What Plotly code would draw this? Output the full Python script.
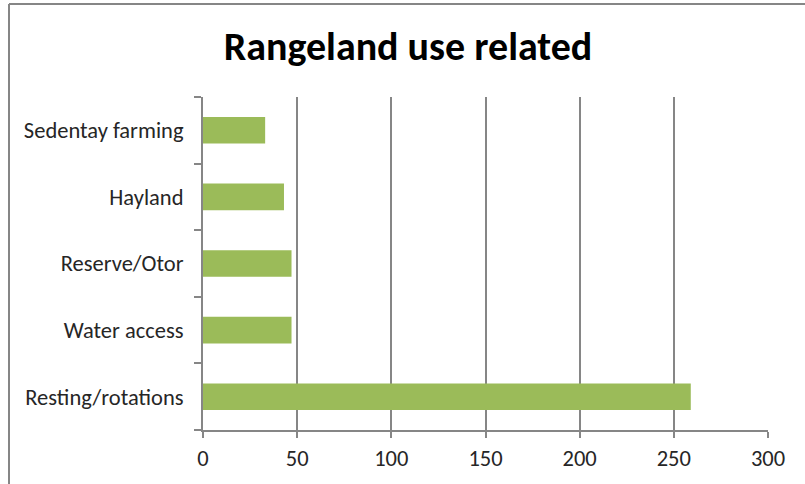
import plotly.graph_objects as go

# Rangeland use related responses (counts)
categories = ["Resting/rotations", "Water access", "Reserve/Otor", "Hayland", "Sedentay farming"]
counts = [259, 47, 47, 43, 33]
x_ticks = [0, 50, 100, 150, 200, 250, 300]

W, H = 805, 484
L, R, T, B = 203, 37, 97, 54
pw, ph = W - L - R, H - T - B

grey = "#868686"
text_color = "#262626"
font_family = "Carlito, 'Open Sans', sans-serif"

fig = go.Figure(
    go.Bar(
        y=categories,
        x=counts,
        orientation="h",
        marker=dict(color="#9BBB59", line=dict(width=0)),
        width=0.4,
        hoverinfo="x+y",
    )
)

# chart frame: left and top border of the outer chart box
def px_to_paper_x(px):
    return (px - L) / pw

def px_to_paper_y(py):
    return 1 - (py - T) / ph

fig.add_shape(type="line", xref="paper", yref="paper",
              x0=px_to_paper_x(9), x1=px_to_paper_x(806),
              y0=px_to_paper_y(4), y1=px_to_paper_y(4),
              line=dict(color=grey, width=2))
fig.add_shape(type="line", xref="paper", yref="paper",
              x0=px_to_paper_x(9), x1=px_to_paper_x(9),
              y0=px_to_paper_y(4), y1=px_to_paper_y(486),
              line=dict(color=grey, width=2))

fig.update_layout(
    width=W, height=H,
    margin=dict(l=L, r=R, t=T, b=B, autoexpand=False),
    paper_bgcolor="white",
    plot_bgcolor="white",
    showlegend=False,
    bargap=0.6,
    title=dict(
        text="<b>Rangeland use related</b>",
        x=(408 / W), xanchor="center", xref="container",
        y=1 - 46 / H, yanchor="middle",
        font=dict(family=font_family, size=40, color="#000000"),
    ),
    xaxis=dict(
        range=[0, 300],
        tickvals=x_ticks,
        ticktext=[str(v) for v in x_ticks],
        showgrid=True, gridcolor=grey, gridwidth=2,
        showline=True, linecolor=grey, linewidth=2,
        ticks="outside", ticklen=6, tickcolor=grey, tickwidth=2,
        zeroline=False,
        tickfont=dict(family=font_family, size=22.5, color=text_color),
        ticklabelstandoff=1,
        automargin=False,
        fixedrange=True,
    ),
    yaxis=dict(
        showgrid=False,
        showline=True, linecolor=grey, linewidth=2,
        ticks="outside", ticklen=7, tickcolor=grey, tickwidth=2,
        tickson="boundaries",
        tickfont=dict(family=font_family, size=22.5, color=text_color),
        ticklabelstandoff=13,
        automargin=False,
        fixedrange=True,
    ),
)

fig.write_html("out.html")
